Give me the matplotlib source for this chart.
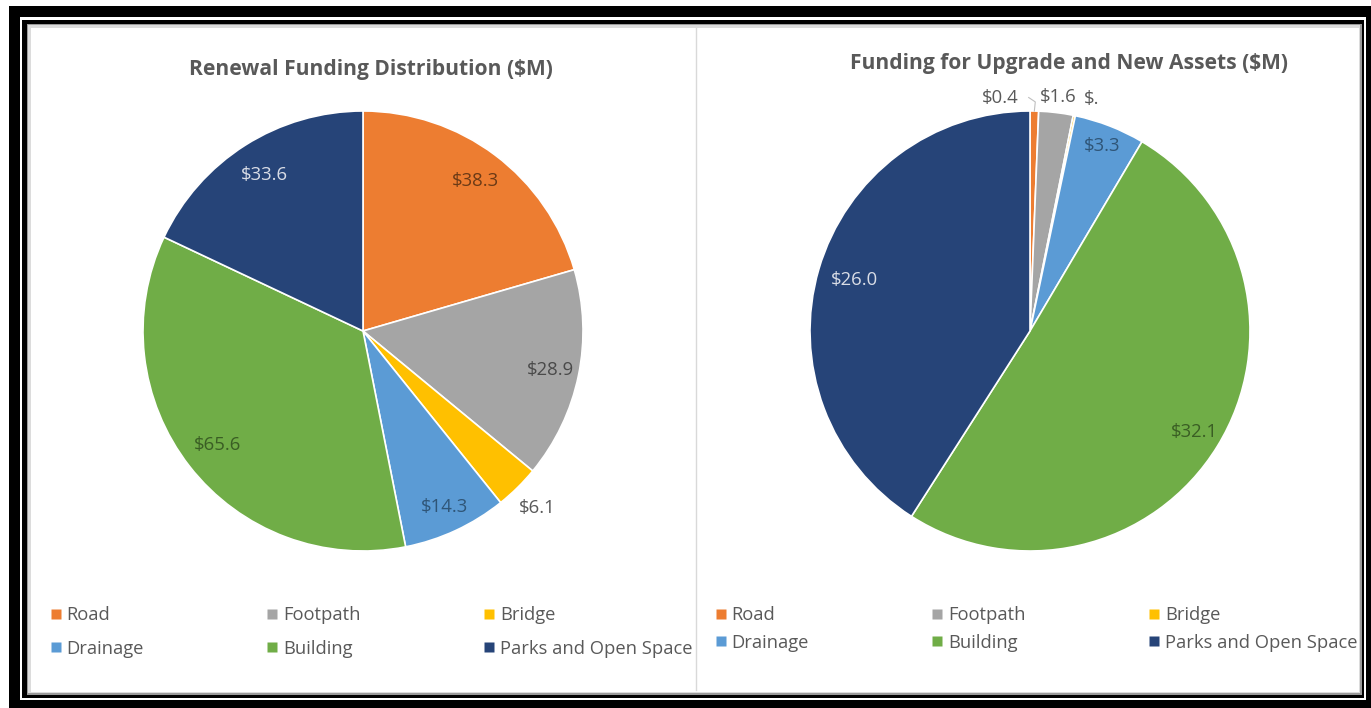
import numpy as np
import matplotlib
matplotlib.use("Agg")
import matplotlib.pyplot as plt
from matplotlib.patches import Rectangle
from matplotlib.lines import Line2D

# ---------------- data ----------------
categories = ["Road", "Footpath", "Bridge", "Drainage", "Building", "Parks and Open Space"]
renewal_values = [38.3, 28.9, 6.1, 14.3, 65.6, 33.6]
renewal_labels = ["$38.3", "$28.9", "$6.1", "$14.3", "$65.6", "$33.6"]
upgrade_values = [0.4, 1.6, 0.1, 3.3, 32.1, 26.0]
upgrade_labels = ["$0.4", "$1.6", "$.", "$3.3", "$32.1", "$26.0"]
titles = ["Renewal Funding Distribution ($M)", "Funding for Upgrade and New Assets ($M)"]

colors = ["#ED7D31", "#A5A5A5", "#FFC000", "#5B9BD5", "#70AD47", "#264478"]
label_colors = ["#6b3a16", "#4a4a4a", "#595959", "#2f5577", "#3a5e24", "#d9dde6"]

W, H = 1371, 708
fig = plt.figure(figsize=(W / 100, H / 100), dpi=100)
fig.patch.set_facecolor("white")
plt.rcParams["font.family"] = ["Open Sans", "DejaVu Sans"]


def frect(x0, y0, x1, y1, color, z=0, **kw):
    r = Rectangle((x0 / W, 1 - y1 / H), (x1 - x0) / W, (y1 - y0) / H,
                  transform=fig.transFigure, facecolor=color, edgecolor="none",
                  zorder=z, **kw)
    fig.patches.append(r)


# frame
frect(9, 6, 1371, 708, "black", z=0)
frect(20, 17, 1366, 700, "white", z=1)
frect(22.5, 19.5, 1364, 698, "black", z=2)
frect(26.5, 23.5, 1361.5, 695, "#9a9a9a", z=3)
frect(28, 25, 1360, 693, "#dcdcdc", z=4)
frect(31, 28, 1359, 692, "white", z=5)
# divider between panels
fig.add_artist(Line2D([696 / W, 696 / W], [1 - 28 / H, 1 - 690 / H],
                      transform=fig.transFigure, color="#d9d9d9", lw=1.0, zorder=6))

text_gray = "#595959"
R_PX = 220


def make_pie(cx, cy, values, labels, dists, angle_override, title, title_xy, leader_idx=None):
    size = 2.5 * R_PX
    ax = fig.add_axes([(cx - size / 2) / W, 1 - (cy + size / 2) / H, size / W, size / H])
    ax.set_zorder(10)
    wedges, _ = ax.pie(values, colors=colors, startangle=90, counterclock=False,
                       wedgeprops=dict(edgecolor="white", linewidth=1.2))
    ax.set_xlim(-1.25, 1.25)
    ax.set_ylim(-1.25, 1.25)
    ax.set_aspect("equal")
    ax.axis("off")
    total = float(np.sum(values))
    cum = np.cumsum([0] + list(values))
    for i, (v, lab) in enumerate(zip(values, labels)):
        mid = (cum[i] + v / 2) / total * 360.0  # clockwise from top
        ang = angle_override.get(i, mid)
        d = dists[i]
        x = d * np.sin(np.radians(ang))
        y = d * np.cos(np.radians(ang))
        col = label_colors[i] if d < 1.0 else text_gray
        ax.text(x, y, lab, ha="center", va="center", fontsize=13.3, color=col, zorder=20)
        if leader_idx is not None and i == leader_idx:
            ex = 1.0 * np.sin(np.radians(mid))
            ey = 1.0 * np.cos(np.radians(mid))
            ax.plot([x + 0.13, x + 0.16, ex], [y + 0.0, y - 0.02, ey],
                    color="#bfbfbf", lw=0.8, zorder=19)
    fig.text(title_xy[0] / W, 1 - title_xy[1] / H, title, ha="center", va="center",
             fontsize=15.1, fontweight="bold", color=text_gray, zorder=20)
    return ax, wedges


ax1, w1 = make_pie(363, 331, renewal_values, renewal_labels,
                   [0.85, 0.87, 1.13, 0.88, 0.84, 0.84], {}, titles[0], (371, 70))
ax2, w2 = make_pie(1030, 331, upgrade_values, upgrade_labels,
                   [1.07, 1.07, 1.09, 0.9, 0.88, 0.83], {0: 352.7, 2: 15.0}, titles[1],
                   (1069, 63), leader_idx=0)

# legends (column-major order for ncol=3)
order = [0, 3, 1, 4, 2, 5]


def add_legend(x_left, y_top, row_gap):
    handles = [Line2D([], [], marker="s", linestyle="none", markersize=6.5,
                      markerfacecolor=colors[i], markeredgecolor="none") for i in order]
    labs = [categories[i] for i in order]
    leg = fig.legend(handles, labs, ncol=3, loc="upper left",
                     bbox_to_anchor=(x_left / W, 1 - y_top / H), frameon=False,
                     fontsize=13.2, labelcolor=text_gray, handlelength=0.6,
                     handletextpad=0.3, columnspacing=6.7, labelspacing=row_gap,
                     borderpad=0, borderaxespad=0)
    leg.set_zorder(20)
    return leg


add_legend(50, 606, 0.86)
add_legend(715, 606, 0.53)

fig.savefig("out.png", dpi=100)
